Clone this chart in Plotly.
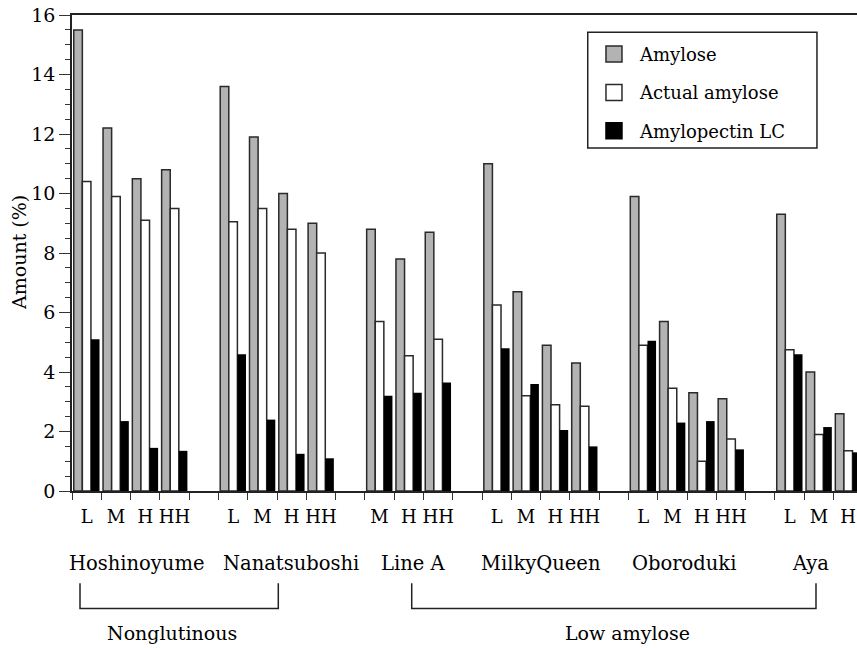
import plotly.graph_objects as go

# ---------------- data ----------------
groups = ["Hoshinoyume", "Nanatsuboshi", "Line A", "MilkyQueen", "Oboroduki", "Aya"]
levels = {
    "Hoshinoyume": ["L", "M", "H", "HH"],
    "Nanatsuboshi": ["L", "M", "H", "HH"],
    "Line A": ["M", "H", "HH"],
    "MilkyQueen": ["L", "M", "H", "HH"],
    "Oboroduki": ["L", "M", "H", "HH"],
    "Aya": ["L", "M", "H"],
}
amylose = {
    "Hoshinoyume": [15.5, 12.2, 10.5, 10.8],
    "Nanatsuboshi": [13.6, 11.9, 10.0, 9.0],
    "Line A": [8.8, 7.8, 8.7],
    "MilkyQueen": [11.0, 6.7, 4.9, 4.3],
    "Oboroduki": [9.9, 5.7, 3.3, 3.1],
    "Aya": [9.3, 4.0, 2.6],
}
actual_amylose = {
    "Hoshinoyume": [10.4, 9.9, 9.1, 9.5],
    "Nanatsuboshi": [9.05, 9.5, 8.8, 8.0],
    "Line A": [5.7, 4.55, 5.1],
    "MilkyQueen": [6.25, 3.2, 2.9, 2.85],
    "Oboroduki": [4.9, 3.45, 1.0, 1.75],
    "Aya": [4.75, 1.9, 1.35],
}
amylopectin_lc = {
    "Hoshinoyume": [5.1, 2.35, 1.45, 1.35],
    "Nanatsuboshi": [4.6, 2.4, 1.25, 1.1],
    "Line A": [3.2, 3.3, 3.65],
    "MilkyQueen": [4.8, 3.6, 2.05, 1.5],
    "Oboroduki": [5.05, 2.3, 2.35, 1.4],
    "Aya": [4.6, 2.15, 1.3],
}
series_names = ["Amylose", "Actual amylose", "Amylopectin LC"]
class_labels = ["Nonglutinous", "Low amylose"]
y_title = "Amount (%)"

# ---------------- build category axis ----------------
cats, ticktext = [], []
vals = {n: [] for n in series_names}
for gi, g in enumerate(groups):
    for li, lv in enumerate(levels[g]):
        cats.append(f"{g}|{lv}")
        ticktext.append(lv)
        vals["Amylose"].append(amylose[g][li])
        vals["Actual amylose"].append(actual_amylose[g][li])
        vals["Amylopectin LC"].append(amylopectin_lc[g][li])
    if gi < len(groups) - 1:
        cats.append(f"gap{gi}")
        ticktext.append("")
        for n in series_names:
            vals[n].append(None)

FONT = "DejaVu Serif"
styles = {
    "Amylose": dict(color="#b3b3b3", line=dict(color="#2a2a2a", width=1.5)),
    "Actual amylose": dict(color="#ffffff", line=dict(color="#2a2a2a", width=1.5)),
    "Amylopectin LC": dict(color="#000000", line=dict(color="#000000", width=0)),
}

fig = go.Figure()
for n in series_names:
    fig.add_trace(go.Bar(x=cats, y=vals[n], name=n, marker=styles[n], showlegend=False))

# legend entries with larger square symbols
for i, n in enumerate(series_names):
    st = styles[n]
    fig.add_trace(go.Scatter(
        x=[None], y=[None], mode="markers", name=n, legendgroup=f"g{i}",
        marker=dict(symbol="square", size=16, color=st["color"],
                    line=dict(color="#2a2a2a" if n != "Amylopectin LC" else "#000", width=1.5)),
    ))

fig.update_layout(
    template="none",
    width=857, height=648,
    margin=dict(l=72, r=0, t=15, b=157, autoexpand=False),
    paper_bgcolor="white", plot_bgcolor="white",
    font=dict(family=FONT, color="black", size=18),
    barmode="group", bargap=0.12, bargroupgap=0,
    legend=dict(
        x=0.6573, y=0.9562, xanchor="left", yanchor="top",
        borderwidth=0, bgcolor="rgba(0,0,0,0)",
        font=dict(size=18, family=FONT, color="black"), tracegroupgap=12,
        itemsizing="trace", itemwidth=42, traceorder="grouped",
    ),
)

# legend frame
fig.add_shape(type="rect", xref="paper", yref="paper",
              x0=0.657, x1=0.949, y0=0.7204, y1=0.9636,
              line=dict(color="#222", width=1.5), fillcolor="rgba(0,0,0,0)")

fig.update_xaxes(
    type="category", categoryorder="array", categoryarray=cats,
    tickmode="array", tickvals=cats, ticktext=ticktext, tickangle=0,
    tickson="boundaries", ticks="outside", ticklen=7, tickwidth=1.2, tickcolor="#333",
    showline=True, linecolor="#222", linewidth=1.5, mirror=True,
    showgrid=False, zeroline=False, automargin=False,
    range=[-0.5, 26.30],
    tickfont=dict(size=18, family=FONT, color="black"),
    ticklabelstandoff=9,
)
fig.update_yaxes(
    range=[0, 16], dtick=2, tick0=0,
    ticks="outside", ticklen=11, tickwidth=1.3, tickcolor="#333",
    minor=dict(dtick=0.5, ticks="outside", ticklen=5.5, tickwidth=1.1, tickcolor="#333", showgrid=False),
    showline=True, linecolor="#222", linewidth=1.5,
    showgrid=False, zeroline=False, automargin=False,
    tickfont=dict(size=19, family=FONT, color="black"),
)

# y-axis title
fig.add_annotation(x=-0.0675, y=0.5, xref="paper", yref="paper", text=y_title,
                   textangle=-90, showarrow=False,
                   font=dict(size=19, family=FONT, color="black"),
                   xanchor="center", yanchor="middle")

# group (cultivar) names
group_x = {"Hoshinoyume": 1.685, "Nanatsuboshi": 6.99, "Line A": 11.14,
           "MilkyQueen": 15.51, "Oboroduki": 20.38, "Aya": 24.71}
for g in groups:
    fig.add_annotation(x=group_x[g], y=-0.152, xref="x", yref="paper", text=g,
                       showarrow=False, font=dict(size=19.5, family=FONT, color="black"),
                       xanchor="center", yanchor="middle")

# class brackets
brackets = [(-0.227, 6.543, class_labels[0], 2.914), (11.098, 24.90, class_labels[1], 18.48)]
for x0, x1, lab, xc in brackets:
    fig.add_shape(type="path", xref="x", yref="paper",
                  path=f"M {x0},-0.194 L {x0},-0.2466 L {x1},-0.2466 L {x1},-0.194",
                  line=dict(color="#222", width=1.5))
    fig.add_annotation(x=xc, y=-0.298, xref="x", yref="paper", text=lab,
                       showarrow=False, font=dict(size=19, family=FONT, color="black"),
                       xanchor="center", yanchor="middle")

fig.write_html("out.html")
